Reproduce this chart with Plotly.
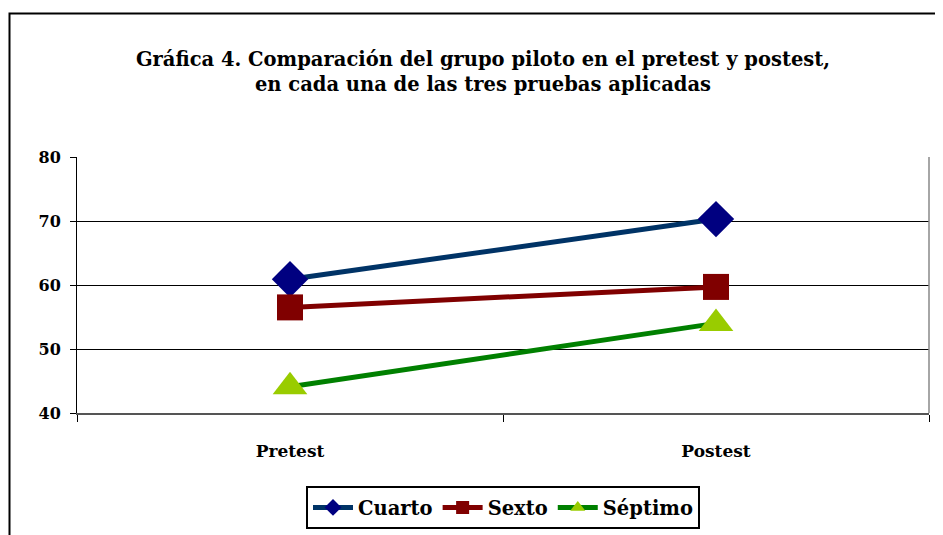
import plotly.graph_objects as go

# -- datos
pruebas = ['Pretest', 'Postest']
cuarto = [60.9, 70.3]
sexto = [56.5, 59.7]
septimo = [44.1, 54.0]

fuente = 'DejaVu Serif'

series = [
    ('Cuarto', cuarto, '#003366', 'diamond', 28, '#000080'),
    ('Sexto', sexto, '#800000', 'square', 26, '#800000'),
    ('Séptimo', septimo, '#008000', 'triangle-up', 30, '#99CC00'),
]

fig = go.Figure()

for nombre, valores, color_linea, simbolo, tam, color_marca in series:
    fig.add_trace(go.Scatter(x=pruebas, y=valores, name=nombre, mode='lines+markers',
                             line=dict(color=color_linea, width=5), showlegend=False,
                             marker=dict(symbol=simbolo, size=tam, color=color_marca)))
    # entrada de leyenda con marca mas chica
    fig.add_trace(go.Scatter(x=[None], y=[None], name=nombre, mode='lines+markers',
                             line=dict(color=color_linea, width=5),
                             marker=dict(symbol=simbolo, size=13, color=color_marca)))

# la pagina tiene 8 px de margen en el body
fig.update_layout(
    width=943, height=535,
    margin=dict(l=69, r=22, t=149, b=130, autoexpand=False),
    paper_bgcolor='white', plot_bgcolor='white',
    font=dict(family=fuente, size=15, color='black'),
    title=dict(text='<b>Gráfica 4. Comparación del grupo piloto en el pretest y postest,<br>'
                    'en cada una de las tres pruebas aplicadas</b>',
               x=475 / 943, xanchor='center', y=1 - 58 / 535, yanchor='top',
               font=dict(family=fuente, size=19.5, color='black')),
    legend=dict(orientation='h', x=(495 - 69) / 852, xanchor='center',
                y=-0.37, yanchor='middle', bordercolor='black', borderwidth=2,
                font=dict(family=fuente, size=19.5, color='black', weight='bold'),
                itemwidth=40, tracegroupgap=0),
    showlegend=True,
)

fig.update_xaxes(type='category', range=[-0.5, 1.5], showgrid=False, automargin=False,
                 tickson='boundaries', ticks='outside', ticklen=7, tickcolor='black',
                 showline=True, linecolor='#555555', linewidth=2, ticklabelstandoff=22,
                 tickfont=dict(family=fuente, size=17, weight='bold'))

fig.update_yaxes(range=[40, 80], dtick=10, showgrid=True, gridcolor='black', gridwidth=1,
                 ticks='outside', ticklen=6, tickcolor='black', automargin=False,
                 showline=True, linecolor='black', linewidth=1, zeroline=False,
                 ticklabelstandoff=6,
                 tickfont=dict(family=fuente, size=16, weight='bold'))

# borde derecho del area de trazado y marco exterior
fig.add_shape(type='line', xref='paper', yref='paper', x0=1, x1=1, y0=0, y1=1,
              line=dict(color='#888888', width=1.5))
fig.add_shape(type='rect', xref='paper', yref='paper',
              x0=(1.5 - 69) / 852, x1=(960 - 69) / 852,
              y0=(405 - 560) / 256, y1=(405 - 5.5) / 256,
              line=dict(color='black', width=2), layer='below')

fig.write_html('out.html')
